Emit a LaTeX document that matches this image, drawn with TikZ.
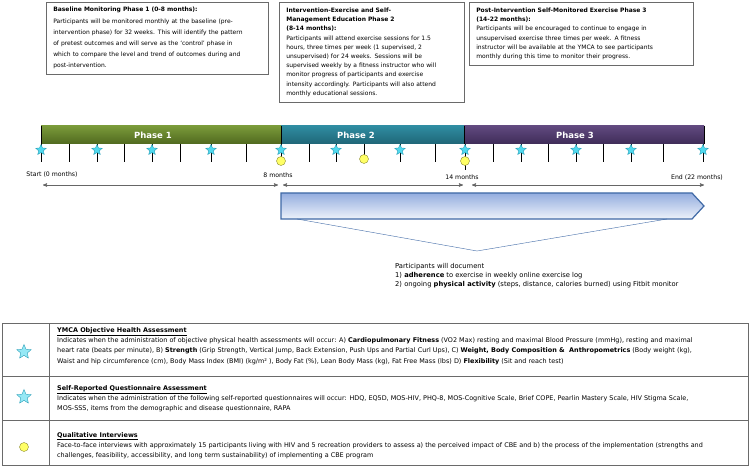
\documentclass[tikz,border=0pt]{standalone}
\usepackage{fontspec}
\setmainfont{DejaVu Sans}
\usetikzlibrary{shapes.geometric, arrows}

\definecolor{phaseonetop}{HTML}{7A9A3A}
\definecolor{phaseonebot}{HTML}{50691F}
\definecolor{phasetwotop}{HTML}{2F8CA1}
\definecolor{phasetwobot}{HTML}{1F6677}
\definecolor{phasethreetop}{HTML}{61497F}
\definecolor{phasethreebot}{HTML}{3E2C58}
\definecolor{starfill}{HTML}{4FD9EE}
\definecolor{starline}{HTML}{2A9FB8}
\definecolor{dotfill}{HTML}{FFFF66}
\definecolor{dotline}{HTML}{8C8C30}
\definecolor{arrowtop}{HTML}{94ADDF}
\definecolor{arrowbot}{HTML}{EDF2FA}
\definecolor{arrowline}{HTML}{3F69A6}
\definecolor{boxline}{HTML}{6A6A6A}

\begin{document}
\begin{tikzpicture}[x=1pt,y=-1pt,>=stealth',
    infobox/.style={draw=boxline, semithick, fill=white, align=left, anchor=north west,
        inner xsep=7pt, inner ysep=3pt, font=\fontsize{6}{9.2}\selectfont},
    phaselabel/.style={text=white, font=\fontsize{8.5}{10}\selectfont\bfseries},
    tick/.style={black, line width=1pt},
    hstar/.style={star, star points=5, star point ratio=2.2, fill=starfill, draw=starline,
        minimum size=11pt, inner sep=0pt},
    lstar/.style={hstar, fill=starfill!60, minimum size=15pt},
    qdot/.style={circle, fill=dotfill, draw=dotline, minimum size=9pt, inner sep=0pt},
    mlabel/.style={font=\fontsize{6.2}{8}\selectfont},
    span/.style={<->, draw=gray!80!black, semithick},
    legend/.style={align=left, anchor=north west, inner sep=0pt, font=\fontsize{6.45}{10.4}\selectfont},
    legline/.style={draw=boxline, semithick}]
\useasboundingbox (0,0) rectangle (750,468);

% description boxes
\node[infobox, text width=208pt, minimum height=72pt, font=\fontsize{6}{11.2}\selectfont] (base) at (46,2)
    {\textbf{Baseline Monitoring Phase 1 (0-8 months):}\\
     Participants will be monitored monthly at the baseline (pre-\\
     intervention phase) for 32 weeks. This will identify the pattern\\
     of pretest outcomes and will serve as the ‘control’ phase in\\
     which to compare the level and trend of outcomes during and\\
     post-intervention.};
\node[infobox, text width=171pt, minimum height=100pt] (inter) at (279,2)
    {\textbf{Intervention-Exercise and Self-}\\
     \textbf{Management Education Phase 2}\\
     \textbf{(8-14 months):}\\
     Participants will attend exercise sessions for 1.5\\
     hours, three times per week (1 supervised, 2\\
     unsupervised) for 24 weeks. Sessions will be\\
     supervised weekly by a fitness instructor who will\\
     monitor progress of participants and exercise\\
     intensity accordingly. Participants will also attend\\
     monthly educational sessions.};
\node[infobox, text width=210pt, minimum height=63pt] (post) at (469,2)
    {\textbf{Post-Intervention Self-Monitored Exercise Phase 3}\\
     \textbf{(14-22 months):}\\
     Participants will be encouraged to continue to engage in\\
     unsupervised exercise three times per week. A fitness\\
     instructor will be available at the YMCA to see participants\\
     monthly during this time to monitor their progress.};

% phase bar
\shade[top color=phaseonetop, bottom color=phaseonebot] (41,126) rectangle (281,144);
\shade[top color=phasetwotop, bottom color=phasetwobot] (281,126) rectangle (464,144);
\shade[top color=phasethreetop, bottom color=phasethreebot] (464,126) rectangle (704,144);
\node[phaselabel] (ph1) at (153,135) {Phase 1};
\node[phaselabel] (ph2) at (356,135) {Phase 2};
\node[phaselabel] (ph3) at (575,135) {Phase 3};
\foreach \x in {41,281,464,704}
    \draw[black, line width=0.8pt] (\x,126) -- (\x,144);

% months
\foreach \x in {41,69,97,124,152,180,211,246,281,309,336,364,400,435,465,493,521,548,576,603,631,663,703}
    \draw[tick] (\x,144) -- (\x,162);
\draw[tick] (465,162) -- (465,170);
\foreach \x in {41,97,152,211,281,336,400,465,521,576,631,703}
    \node[hstar] (s\x) at (\x,150) {};
\node[qdot] (q1) at (281,161) {};
\node[qdot] (q2) at (364,159) {};
\node[qdot] (q3) at (465,161) {};

\node[mlabel] (m0) at (52,175) {Start (0 months)};
\node[mlabel] (m8) at (278,175) {8 months};
\node[mlabel] (m14) at (462,177) {14 months};
\node[mlabel] (m22) at (697,178) {End (22 months)};

\coordinate (a0) at (43,185);
\coordinate (a8l) at (278,185);
\coordinate (a8r) at (283,185);
\coordinate (a14l) at (463,185);
\coordinate (a14r) at (472,185);
\coordinate (a22) at (704,185);
\draw[span] (a0) -- (a8l);
\draw[span] (a8r) -- (a14l);
\draw[span] (a14r) -- (a22);

% follow-up arrow and callout
\shadedraw[top color=arrowtop, bottom color=arrowbot, draw=arrowline, line width=1.2pt]
    (281,193) -- (692,193) -- (704,206) -- (692,219) -- (281,219) -- cycle;
\coordinate (cl) at (297,219);
\coordinate (cm) at (477,251);
\coordinate (cr) at (667,219);
\draw[arrowline, thin] (cl) -- (cm) -- (cr);
\node[legend, font=\fontsize{6.75}{9.3}\selectfont] (doc) at (395,263)
    {Participants will document\\
     1) \textbf{adherence} to exercise in weekly online exercise log\\
     2) ongoing \textbf{physical activity} (steps, distance, calories burned) using Fitbit monitor};

% legend table
\draw[legline] (2,323) rectangle (748,465);
\draw[legline] (49,323) -- (49,465);
\draw[legline] (2,376) -- (748,376);
\draw[legline] (2,420) -- (748,420);
\node[lstar] (k1) at (24,352) {};
\node[lstar] (k2) at (24,397) {};
\node[qdot] (k3) at (24,447) {};
\node[legend] (l1) at (57,327)
    {\underline{\textbf{YMCA Objective Health Assessment}}\\
     Indicates when the administration of objective physical health assessments will occur: A) \textbf{Cardiopulmonary Fitness} (VO2 Max) resting and maximal Blood Pressure (mmHg), resting and maximal\\
     heart rate (beats per minute), B) \textbf{Strength} (Grip Strength, Vertical Jump, Back Extension, Push Ups and Partial Curl Ups), C) \textbf{Weight, Body Composition \&\ \ Anthropometrics} (Body weight (kg),\\
     Waist and hip circumference (cm), Body Mass Index (BMI) (kg/m² ), Body Fat (\%), Lean Body Mass (kg), Fat Free Mass (lbs) D) \textbf{Flexibility} (Sit and reach test)};
\node[legend] (l2) at (57,385)
    {\underline{\textbf{Self-Reported Questionnaire Assessment}}\\
     Indicates when the administration of the following self-reported questionnaires will occur: HDQ, EQ5D, MOS-HIV, PHQ-8, MOS-Cognitive Scale, Brief COPE, Pearlin Mastery Scale, HIV Stigma Scale,\\
     MOS-SSS, items from the demographic and disease questionnaire, RAPA};
\node[legend] (l3) at (57,432)
    {\underline{\textbf{Qualitative Interviews}}\\
     Face-to-face interviews with approximately 15 participants living with HIV and 5 recreation providers to assess a) the perceived impact of CBE and b) the process of the implementation (strengths and\\
     challenges, feasibility, accessibility, and long term sustainability) of implementing a CBE program};
\end{tikzpicture}
\end{document}
